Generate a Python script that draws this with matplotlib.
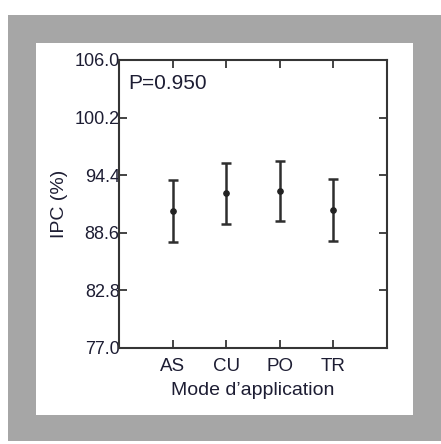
import matplotlib
matplotlib.use("Agg")
import matplotlib.pyplot as plt
from matplotlib.patches import Rectangle

# Data
categories = ["AS", "CU", "PO", "TR"]
ipc_mean = [90.8, 92.6, 92.8, 90.9]
ipc_err = [3.1, 3.07, 3.06, 3.09]
y_ticks = [77.0, 82.8, 88.6, 94.4, 100.2, 106.0]

plt.rcParams["font.family"] = ["Liberation Sans", "DejaVu Sans"]

W, H = 441, 444
fig = plt.figure(figsize=(W / 100, H / 100), dpi=100)
fig.patch.set_facecolor("white")

def px_rect(x0, y0, x1, y1, color, z):
    r = Rectangle((x0 / W, 1 - y1 / H), (x1 - x0) / W, (y1 - y0) / H,
                  transform=fig.transFigure, facecolor=color,
                  edgecolor="none", zorder=z)
    fig.add_artist(r)

# grey mat and white panel behind the plot
px_rect(8, 15, 441, 441, "#a6a6a6", -10)
px_rect(36, 43, 413, 415, "white", -9)

ax = fig.add_axes([119 / W, 1 - 348 / H, (387 - 119) / W, (348 - 60) / H])
ax.set_facecolor("white")

x = list(range(1, len(categories) + 1))
ax.errorbar(x, ipc_mean, yerr=ipc_err, fmt="o", color="#222222",
            ecolor="#2e2e2e", elinewidth=1.8, capsize=3.3, capthick=1.8,
            markersize=3.8)

ax.set_xlim(0, 5)
ax.set_ylim(77.0, 106.0)
ax.set_xticks(x)
ax.set_xticklabels(categories)
ax.set_yticks(y_ticks)
ax.set_yticklabels([f"{v:.1f}" for v in y_ticks])

text_color = "#1d1d33"
for s in ax.spines.values():
    s.set_linewidth(1.5)
    s.set_color("#353535")

ax.tick_params(axis="both", direction="in", length=5.5, width=1.3,
               color="#353535", top=True, right=True)
ax.tick_params(axis="x", labelsize=13.5, pad=7, labelcolor=text_color)
ax.tick_params(axis="y", labelsize=13, pad=-0.5, labelcolor=text_color)

ax.set_xlabel("Mode d\u2019application", fontsize=14, color=text_color,
              labelpad=5)
ax.set_ylabel("IPC (%)", fontsize=14, color=text_color, labelpad=5)

ax.text(0.035, 0.95, "P=0.950", transform=ax.transAxes, fontsize=15,
        color=text_color, ha="left", va="top")

fig.savefig("out.png", dpi=100, facecolor="white")
